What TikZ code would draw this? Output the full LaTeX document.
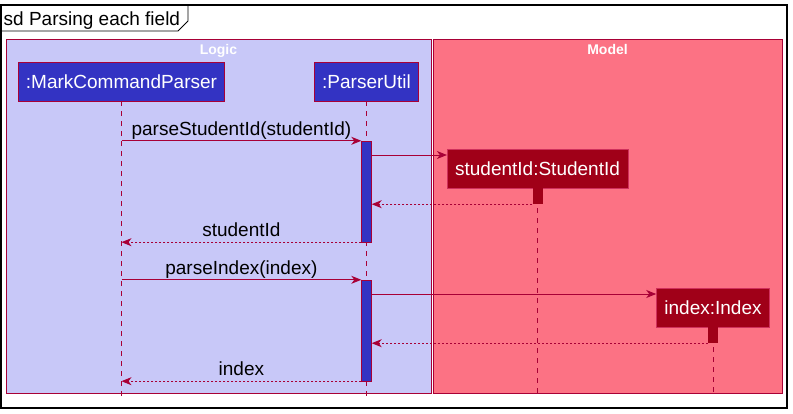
\documentclass[tikz,border=0pt]{standalone}
\usepackage{fontspec}
\setmainfont{Liberation Sans}
\usetikzlibrary{arrows.meta}
\definecolor{crim}{HTML}{A80036}
\definecolor{logicbg}{HTML}{C8C8F8}
\definecolor{modelbg}{HTML}{FC7284}
\definecolor{partblue}{HTML}{3333C3}
\definecolor{objred}{HTML}{A00018}
\definecolor{objbd}{HTML}{D0305C}
\begin{document}
\begin{tikzpicture}[x=1pt, y=-1pt,
    part/.style={draw=crim, fill=partblue, text=white, minimum height=39pt, inner xsep=7.5pt,
      font=\fontsize{19}{22}\selectfont},
    obj/.style={draw=objbd, fill=objred, text=white, minimum height=39pt, inner xsep=8pt,
      font=\fontsize{19}{22}\selectfont},
    act/.style={draw=crim, fill=partblue, minimum width=10pt, inner sep=0pt},
    objact/.style={fill=objred, minimum width=10pt, minimum height=16pt, inner sep=0pt},
    life/.style={crim, line width=0.8pt, dash pattern=on 5pt off 5pt},
    msg/.style={crim, line width=0.9pt, -{Stealth[length=10pt, width=8pt, inset=3pt]}},
    ret/.style={msg, dash pattern=on 2pt off 2pt},
    lbl/.style={anchor=south, text=black, text depth=0pt, inner xsep=0pt, inner ysep=5pt,
      font=\fontsize{19}{22}\selectfont},
    boxttl/.style={anchor=base, text=white, font=\fontsize{14}{16}\selectfont\bfseries}]
  \useasboundingbox (0,0) rectangle (793,414);
  % boxes
  \draw [crim, fill=logicbg] (6,39) rectangle (431,393);
  \draw [crim, fill=modelbg] (433,39) rectangle (782,393);
  \node [boxttl] (logicttl) at (218.5,55) {Logic};
  \node [boxttl] (modelttl) at (607.5,55) {Model};
  % frame
  \draw [line width=1.3pt] (1,5) rectangle (787,408);
  \draw [line width=0.9pt] (1,31) -- (178,31) -- (188,21) -- (188,5);
  \node [anchor=base west, inner sep=0pt, font=\fontsize{19}{22}\selectfont] (sdttl) at (3.5,26) {sd Parsing each field};
  \coordinate (bot) at (0,397);
  % participants
  \node [part] (mcp) at (121.5,81.5) {:MarkCommandParser};
  \node [part] (pu) at (366.5,81.5) {:ParserUtil};
  \node [obj] (sid) at (537.5,168.5) {studentId:StudentId};
  \node [obj] (idx) at (713,307.5) {index:Index};
  \draw [life] (mcp.south) -- (mcp.south |- bot);
  \draw [life] (pu.south) -- (pu.south |- bot);
  \draw [life] (sid.south) -- (sid.south |- bot);
  \draw [life] (idx.south) -- (idx.south |- bot);
  % activations
  \node [act, minimum height=101pt] (bar1) at (366.5,191.5) {};
  \node [act, minimum height=101pt] (bar2) at (366.5,330.5) {};
  \node [objact] (sidact) at (537.5,196) {};
  \node [objact] (idxact) at (713,335) {};
  \coordinate (new1) at (0,155);
  \coordinate (new2) at (0,294);
  % messages
  \draw [msg] (mcp |- bar1.north) -- node[lbl] {parseStudentId(studentId)} (bar1.north west);
  \draw [msg] (bar1.east |- new1) -- (sid.west |- new1);
  \draw [ret] (sidact.south west) -- (bar1.east |- sidact.south);
  \draw [ret] (bar1.south west) -- node[lbl] {studentId} (mcp |- bar1.south);
  \draw [msg] (mcp |- bar2.north) -- node[lbl] {parseIndex(index)} (bar2.north west);
  \draw [msg] (bar2.east |- new2) -- (idx.west |- new2);
  \draw [ret] (idxact.south west) -- (bar2.east |- idxact.south);
  \draw [ret] (bar2.south west) -- node[lbl] {index} (mcp |- bar2.south);
\end{tikzpicture}
\end{document}
